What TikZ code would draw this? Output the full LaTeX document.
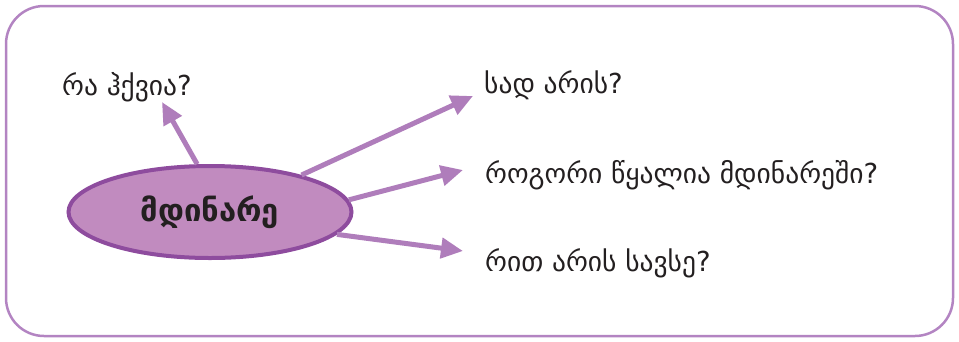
\documentclass[tikz,border=0pt]{standalone}
\usepackage{fontspec}
\setmainfont{DejaVu Sans}
\usetikzlibrary{shapes.geometric,arrows.meta}
\definecolor{frameC}{HTML}{B384C2}
\definecolor{arrowC}{HTML}{AF7DBB}
\definecolor{ellFill}{HTML}{C18BBF}
\definecolor{ellLine}{HTML}{8E4C9E}
\definecolor{txtC}{HTML}{231F20}
\tikzset{
  qtext/.style={anchor=west, inner sep=0pt, text=txtC, font=\fontsize{27.5}{30}\selectfont},
  conn/.style={draw=arrowC, line width=5pt, -{Triangle[length=22pt,width=20pt]}},
  hub/.style={ellipse, draw=ellLine, fill=ellFill, line width=4pt, minimum width=283pt, minimum height=92pt, inner sep=0pt, text=txtC, font=\bfseries\fontsize{31}{34}\selectfont}
}
\begin{document}
\begin{tikzpicture}[x=1pt,y=-1pt]
\useasboundingbox (0,0) rectangle (959,341);
\draw[frameC, line width=2.5pt, rounded corners=38pt] (6,6) rectangle (953,336);
\node[hub] (el) at (210,212) {მდინარე};
\node[qtext] (q1) at (62,87) {რა ჰქვია?};
\node[qtext] (q2) at (484,85) {სად არის?};
\node[qtext] (q3) at (485,175) {როგორი წყალია მდინარეში?};
\node[qtext] (q4) at (485,263) {რით არის სავსე?};
\coordinate (t1) at (162,102);
\coordinate (t2) at (473,96);
\coordinate (t3) at (463,170);
\coordinate (t4) at (463,251);
\draw[conn] (el.105) -- (t1);
\draw[conn] (el.22) -- (t2);
\draw[conn] (el.5) -- (t3);
\draw[conn] (el.-10) -- (t4);
\end{tikzpicture}
\end{document}
